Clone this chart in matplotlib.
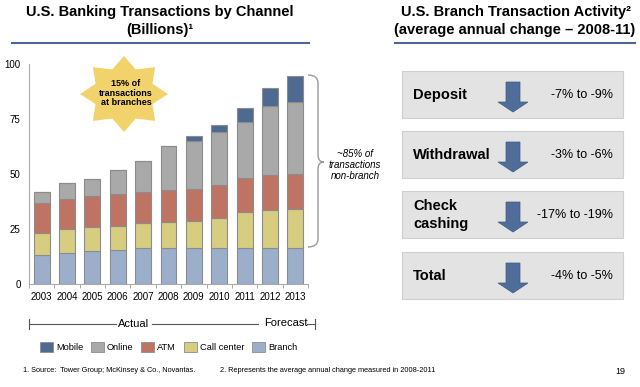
import numpy as np
import matplotlib
matplotlib.use('Agg')
from matplotlib import pyplot as plt
from matplotlib.patches import Rectangle, Polygon, PathPatch
from matplotlib.path import Path

plt.rcParams['font.family'] = ['Liberation Sans', 'DejaVu Sans']

# data (billions of transactions)
years = ['2003', '2004', '2005', '2006', '2007', '2008', '2009', '2010', '2011', '2012', '2013']
branch = [13.2, 14.2, 14.8, 15.3, 16.2, 16.5, 16.5, 16.5, 16.5, 16.5, 16.5]
call_center = [9.8, 10.6, 11.1, 11.2, 11.7, 11.5, 12.0, 13.5, 16.1, 17.3, 17.6]
atm = [14.0, 14.0, 14.1, 14.3, 14.1, 14.9, 14.8, 15.2, 15.4, 15.7, 15.8]
online = [5.0, 7.2, 7.6, 10.9, 13.9, 20.0, 21.9, 23.8, 25.8, 31.5, 33.0]
mobile = [0, 0, 0, 0, 0, 0, 2.1, 3.4, 6.1, 8.2, 11.6]

series_names = ['Branch', 'Call center', 'ATM', 'Online', 'Mobile']
series_colors = ['#9bafcb', '#d7cd80', '#bf7363', '#a9a9a9', '#4f6a91']

activity = ['Deposit', 'Withdrawal', 'Check\ncashing', 'Total']
change = ['-7% to -9%', '-3% to -6%', '-17% to -19%', '-4% to -5%']

W, H = 640, 387
fig = plt.figure(figsize=(6.4, 3.87), dpi=100)

# overlay in pixel coords for the slide decorations
ov = fig.add_axes([0, 0, 1, 1], zorder=0)
ov.set_xlim(0, W)
ov.set_ylim(H, 0)
ov.axis('off')

# bar chart
ax = fig.add_axes([29 / W, 1 - 284 / H, (308 - 29) / W, (284 - 64) / H], zorder=1)
ax.patch.set_alpha(0)
x = np.arange(len(years))
bottom = np.zeros(len(years))
for vals, name, col in zip([branch, call_center, atm, online, mobile], series_names, series_colors):
    vals = np.array(vals)
    ax.bar(x, vals, 0.63, bottom=bottom, color=col, edgecolor='#8c8c8c', linewidth=0.8, label=name)
    bottom += vals
ax.set_xlim(-0.5, 10.5)
ax.set_ylim(0, 100)
ax.set_yticks([0, 25, 50, 75, 100])
ax.set_xticks(x)
ax.set_xticklabels(years, fontsize=7)
ax.tick_params(axis='x', length=0, pad=6)
ax.set_xticks(np.arange(-0.5, 11, 1), minor=True)
ax.tick_params(axis='x', which='minor', length=3, color='#999999')
ax.tick_params(axis='y', labelsize=7, length=0, pad=6)
for s in ['top', 'right']:
    ax.spines[s].set_visible(False)
ax.spines['left'].set_color('#aaaaaa')
ax.spines['bottom'].set_color('#aaaaaa')

# titles
ov.text(160, 12, 'U.S. Banking Transactions by Channel', ha='center', va='center',
        fontsize=10.5, fontweight='bold')
ov.text(160, 30, '(Billions)\u00b9', ha='center', va='center', fontsize=10.5, fontweight='bold')
ov.text(516, 12, 'U.S. Branch Transaction Activity\u00b2', ha='center', va='center',
        fontsize=10.5, fontweight='bold')
ov.text(515, 30, '(average annual change \u2013 2008-11)', ha='center', va='center',
        fontsize=10.5, fontweight='bold')
ov.plot([12, 309], [43, 43], color='#4a6790', lw=1.5)
ov.plot([395, 635], [43, 43], color='#4a6790', lw=1.5)

# star callout
cx, cy = 124, 94
ang = np.pi / 2 + np.arange(16) * np.pi / 8
rad = np.where(np.arange(16) % 2 == 0, 1.0, 0.7)
pts = np.column_stack([cx + 44 * rad * np.cos(ang), cy - 38 * rad * np.sin(ang)])
ov.add_patch(Polygon(pts, closed=True, facecolor='#f2d36b', edgecolor='none', zorder=3))
ov.text(cx + 2, cy - 1, '15% of\ntransactions\nat branches', ha='center', va='center', fontsize=6.5,
        fontweight='bold', linespacing=1.1, zorder=4)

# brace
bx0, bx1, bt, bb, bm = 308, 318, 75, 247, 162
verts = [(bx0, bt), (bx1, bt), (bx1, bt + 8), (bx1, bm - 7),
         (bx1, bm), (bx1 + 6, bm), (bx1, bm), (bx1, bm + 7),
         (bx1, bb - 8), (bx1, bb), (bx0, bb)]
codes = [Path.MOVETO, Path.CURVE3, Path.CURVE3, Path.LINETO,
         Path.CURVE3, Path.CURVE3, Path.CURVE3, Path.CURVE3,
         Path.LINETO, Path.CURVE3, Path.CURVE3]
ov.add_patch(PathPatch(Path(verts, codes), facecolor='none', edgecolor='#999999', lw=1.0))
ov.text(355, 165, '~85% of\ntransactions\nnon-branch', ha='center', va='center', fontsize=7,
        style='italic', linespacing=1.15)

# actual / forecast line
ly = 324
ov.plot([29, 116], [ly, ly], color='#555555', lw=0.8)
ov.plot([152, 258], [ly, ly], color='#555555', lw=0.8)
ov.plot([307, 315], [ly, ly], color='#555555', lw=0.8)
ov.plot([29, 29], [ly - 5, ly + 5], color='#555555', lw=0.8)
ov.plot([315, 315], [ly - 5, ly + 5], color='#555555', lw=0.8)
ov.text(134, ly, 'Actual', ha='center', va='center', fontsize=8)
ov.text(286, ly - 1, 'Forecast', ha='center', va='center', fontsize=8)

# legend
leg_items = list(zip(series_names, series_colors))[::-1]
leg_x = [40, 91, 141, 184, 252]
for (name, col), lx in zip(leg_items, leg_x):
    ov.add_patch(Rectangle((lx, 342), 13, 10, facecolor=col, edgecolor='#8c8c8c', lw=0.6))
    ov.text(lx + 16, 347, name, ha='left', va='center', fontsize=6.7)

# right panel boxes
tops = [71, 131, 191, 252]
for top, lab, val in zip(tops, activity, change):
    ov.add_patch(Rectangle((402, top), 221, 47, facecolor='#e3e3e3', edgecolor='#cfcfcf', lw=0.8))
    ov.text(413, top + 24, lab, ha='left', va='center', fontsize=10.5, fontweight='bold',
            linespacing=1.3)
    ax_c = 513
    arrow = [(ax_c - 7, top + 11), (ax_c + 7, top + 11), (ax_c + 7, top + 31),
             (ax_c + 15, top + 31), (ax_c, top + 41), (ax_c - 15, top + 31),
             (ax_c - 7, top + 31)]
    ov.add_patch(Polygon(arrow, closed=True, facecolor='#4f6d98', edgecolor='#3e5a82', lw=0.5))
    ov.text(613, top + 24, val, ha='right', va='center', fontsize=9)

# footnotes
ov.text(23, 371, '1. Source:  Tower Group; McKinsey & Co., Novantas.', ha='left', va='center', fontsize=5.3)
ov.text(220, 371, '2. Represents the average annual change measured in 2008-2011', ha='left',
        va='center', fontsize=5.3)
ov.text(620, 371, '19', ha='center', va='center', fontsize=6.5)

fig.savefig('out.png', dpi=100)
